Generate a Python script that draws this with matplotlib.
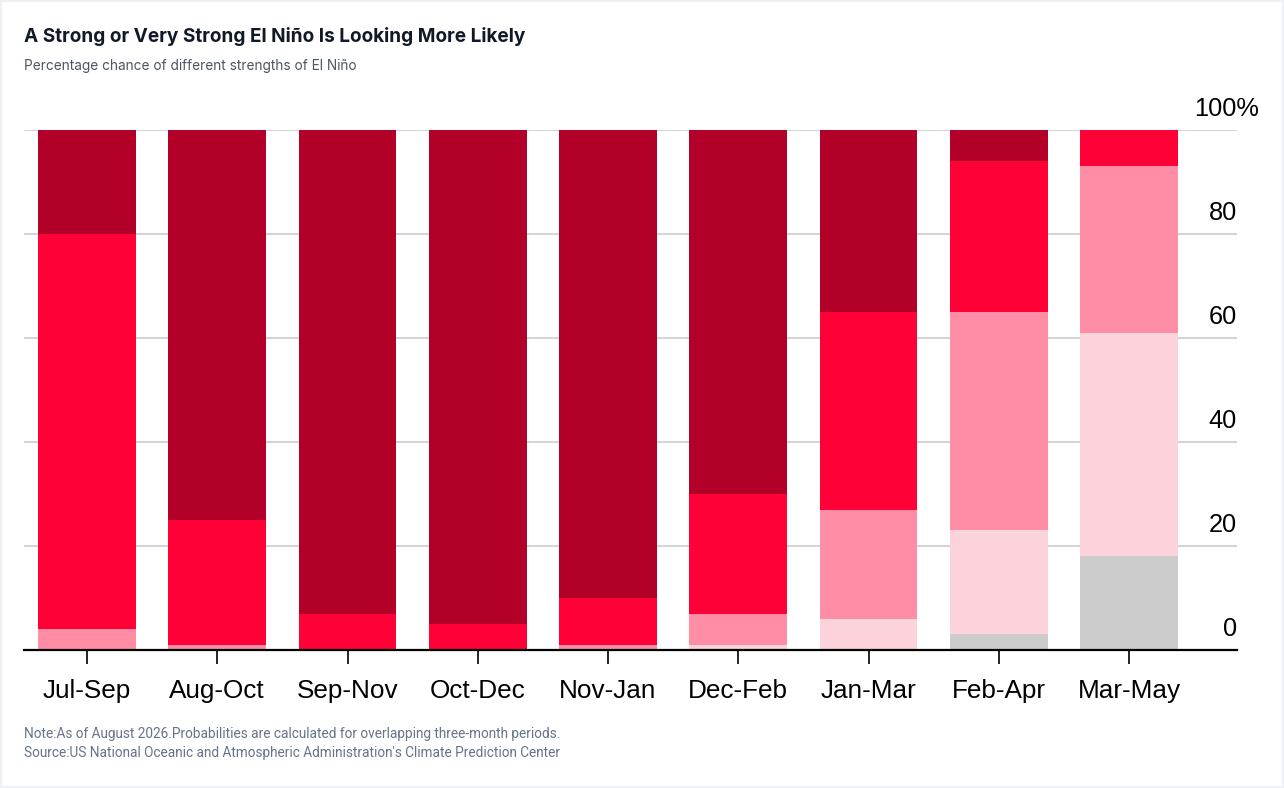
import matplotlib.pyplot as plt
import numpy as np
from matplotlib.patches import Rectangle

periods = ["Jul-Sep", "Aug-Oct", "Sep-Nov", "Oct-Dec", "Nov-Jan",
           "Dec-Feb", "Jan-Mar", "Feb-Apr", "Mar-May"]

# percentage chance per strength, bottom of the stack first
neutral = [0, 0, 0, 0, 0, 0, 0, 3, 18]
weak = [0, 0, 0, 0, 0, 1, 6, 20, 43]
moderate = [4, 1, 0, 0, 1, 6, 21, 42, 32]
strong = [76, 24, 7, 5, 9, 23, 38, 29, 7]
very_strong = [20, 75, 93, 95, 90, 70, 35, 6, 0]

series = [neutral, weak, moderate, strong, very_strong]
colors = ["#cccccc", "#fdd3db", "#ff8da6", "#ff0037", "#b30028"]

yticks = [0, 20, 40, 60, 80, 100]

W, H = 1284, 788
fig = plt.figure(figsize=(W / 100, H / 100), dpi=100)
fig.patch.set_facecolor("white")

# light card border
fig.patches.append(Rectangle((0, 0), 1, 1, transform=fig.transFigure,
                             fill=False, edgecolor="#edf1f5", linewidth=3))

ax = fig.add_axes([24 / W, (H - 650) / H, (1237 - 24) / W, (650 - 130) / H])

x = np.arange(len(periods))
bottom = np.zeros(len(periods))
for vals, c in zip(series, colors):
    ax.bar(x, vals, width=0.752, bottom=bottom, color=c, zorder=2,
           linewidth=0)
    bottom += np.array(vals)

ax.set_xlim(-0.4837, 8.829)
ax.set_ylim(0, 100)

for v in yticks[1:]:
    ax.axhline(v, color="#cccccc", linewidth=1.2, zorder=1)

for s in ["top", "right", "left"]:
    ax.spines[s].set_visible(False)
ax.spines["bottom"].set_color("black")
ax.spines["bottom"].set_linewidth(1.6)
ax.spines["bottom"].set_zorder(3)

ax.set_yticks([])
ax.set_xticks(x)
ax.set_xticklabels(periods, fontsize=18.8, family="Liberation Sans")
ax.tick_params(axis="x", length=10, width=1.2, color="black", pad=11)

ytr = ax.get_yaxis_transform()
for v in yticks:
    label = f"{v}%" if v == 100 else str(v)
    xpos = 1.018 if v == 100 else 1.0
    ax.text(xpos, v + 4.0, label, transform=ytr, ha="right", va="center",
            fontsize=18.3, family="Liberation Sans", color="black")

fig.text(24 / W, 1 - 37 / H, "A Strong or Very Strong El Niño Is Looking More Likely",
         fontsize=13.7, fontweight="bold", family="Inter", color="#111827",
         va="center")
fig.text(24 / W, 1 - 66 / H, "Percentage chance of different strengths of El Niño",
         fontsize=9.8, family="Inter", color="#4b5563", va="center")

fig.text(24 / W, 1 - 734 / H,
         "Note:As of August 2026.Probabilities are calculated for overlapping three-month periods.",
         fontsize=9.8, family="Roboto", color="#64748b", va="center")
fig.text(24 / W, 1 - 753 / H,
         "Source:US National Oceanic and Atmospheric Administration's Climate Prediction Center",
         fontsize=9.8, family="Roboto", color="#64748b", va="center")

plt.savefig("out.png", dpi=100)
